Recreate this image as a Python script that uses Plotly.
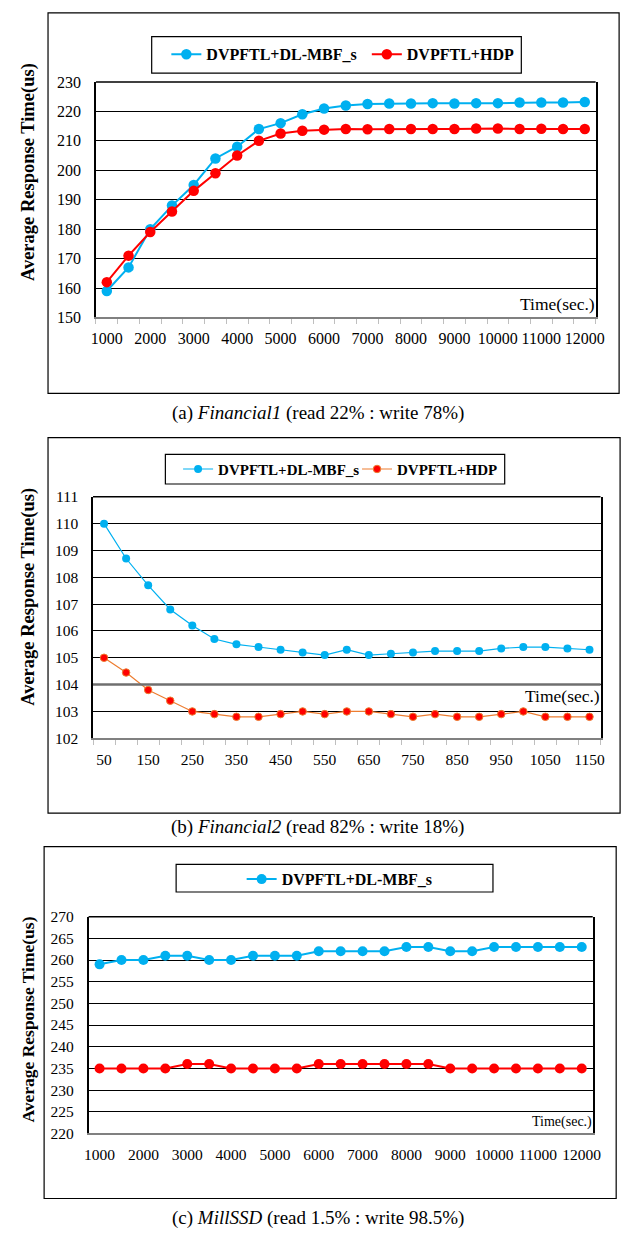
import plotly.graph_objects as go

W, H = 633, 1241
SERIF = "Liberation Serif"
BLUE = "#00B0F0"
RED = "#FF0000"
ORANGE = "#ED7D31"

# ---- (a) Financial1 ----
time_a = [1000, 1500, 2000, 2500, 3000, 3500, 4000, 4500, 5000, 5500, 6000, 6500,
          7000, 7500, 8000, 8500, 9000, 9500, 10000, 10500, 11000, 11500, 12000]
mbf_a = [159, 167, 180, 188, 195, 204, 208, 214, 216, 219, 221, 222,
         222.5, 222.7, 222.7, 222.8, 222.7, 222.8, 222.8, 223, 223, 223, 223.2]
hdp_a = [162, 171, 179, 186, 193, 199, 205, 210, 212.5, 213.4, 213.8, 214,
         213.9, 214, 214, 214, 214, 214.2, 214.2, 214, 214.1, 214, 214]

# ---- (b) Financial2 ----
time_b = [50, 100, 150, 200, 250, 300, 350, 400, 450, 500, 550, 600,
          650, 700, 750, 800, 850, 900, 950, 1000, 1050, 1100, 1150]
mbf_b = [110.0, 108.7, 107.7, 106.8, 106.2, 105.7, 105.5, 105.4, 105.3, 105.2, 105.1, 105.3,
         105.1, 105.15, 105.2, 105.25, 105.25, 105.25, 105.35, 105.4, 105.4, 105.35, 105.3]
hdp_b = [105.0, 104.45, 103.8, 103.4, 103.0, 102.9, 102.8, 102.8, 102.9, 103.0, 102.9, 103.0,
         103.0, 102.9, 102.8, 102.9, 102.8, 102.8, 102.9, 103.0, 102.8, 102.8, 102.8]

# ---- (c) MillSSD ----
time_c = [1000, 1500, 2000, 2500, 3000, 3500, 4000, 4500, 5000, 5500, 6000, 6500,
          7000, 7500, 8000, 8500, 9000, 9500, 10000, 10500, 11000, 11500, 12000]
mbf_c = [259, 260, 260, 261, 261, 260, 260, 261, 261, 261, 262, 262,
         262, 262, 263, 263, 262, 262, 263, 263, 263, 263, 263]
hdp_c = [235, 235, 235, 235, 236, 236, 235, 235, 235, 235, 236, 236,
         236, 236, 236, 236, 235, 235, 235, 235, 235, 235, 235]

captions = [
    "(a) <i>Financial1</i> (read 22% : write 78%)",
    "(b) <i>Financial2</i> (read 82% : write 18%)",
    "(c) <i>MillSSD</i> (read 1.5% : write 98.5%)",
]
name_mbf = "DVPFTL+DL-MBF_s"
name_hdp = "DVPFTL+HDP"
y_title = "Average Response Time(us)"


def px(x):
    return x / W


def py(y):
    return 1 - y / H


fig = go.Figure()

# traces
fig.add_trace(go.Scatter(x=time_a, y=mbf_a, name=name_mbf, mode="lines+markers",
                         line=dict(color=BLUE, width=2), marker=dict(color=BLUE, size=10.5),
                         xaxis="x", yaxis="y", legend="legend"))
fig.add_trace(go.Scatter(x=time_a, y=hdp_a, name=name_hdp, mode="lines+markers",
                         line=dict(color=RED, width=2), marker=dict(color=RED, size=10.5),
                         xaxis="x", yaxis="y", legend="legend2"))
fig.add_trace(go.Scatter(x=time_b, y=mbf_b, name=name_mbf, mode="lines+markers",
                         line=dict(color=BLUE, width=1.2), marker=dict(color=BLUE, size=8),
                         xaxis="x2", yaxis="y2", legend="legend3"))
fig.add_trace(go.Scatter(x=time_b, y=hdp_b, name=name_hdp, mode="lines+markers",
                         line=dict(color=ORANGE, width=1.2),
                         marker=dict(color=RED, size=7.5, line=dict(color=ORANGE, width=1)),
                         xaxis="x2", yaxis="y2", legend="legend4"))
fig.add_trace(go.Scatter(x=time_c, y=mbf_c, name=name_mbf, mode="lines+markers",
                         line=dict(color=BLUE, width=2), marker=dict(color=BLUE, size=10),
                         xaxis="x3", yaxis="y3", legend="legend5"))
fig.add_trace(go.Scatter(x=time_c, y=hdp_c, name=name_hdp, mode="lines+markers",
                         line=dict(color=RED, width=2), marker=dict(color=RED, size=10),
                         xaxis="x3", yaxis="y3", showlegend=False))

# panel geometry (pixels)
panels = [
    dict(plot=(93, 604, 74, 313), box=(44, 628, 4, 390), cap_y=410, ytitle=(24, 165),
         xr=[750, 12250], x0=1000, dx=1000, m0=750, mdx=500, xticks=True,
         yr=[150, 230], dy=10, tick=16, title=18.5, time_size=17.5, time_y=312),
    dict(plot=(90, 609, 495, 740), box=(44, 629, 435, 816), cap_y=830, ytitle=(24, 596),
         xr=[25, 1175], x0=50, dx=100, m0=25, mdx=50, xticks=True,
         yr=[102, 111], dy=1, tick=15.5, title=18.5, time_size=17.5, time_y=709),
    dict(plot=(85.5, 601, 921, 1141), box=(40, 625, 850, 1207), cap_y=1227, ytitle=(24, 1025),
         xr=[750, 12250], x0=1000, dx=1000, m0=750, mdx=500, xticks=False,
         yr=[220, 270], dy=5, tick=15.5, title=17.5, time_size=14, time_y=1140),
]

shapes = []
annotations = []
for i, p in enumerate(panels):
    sfx = "" if i == 0 else str(i + 1)
    l, r, t, b = p["plot"]
    fig.layout["xaxis" + sfx] = dict(
        domain=[px(l), px(r)], anchor="y" + sfx, range=p["xr"],
        tickmode="linear", tick0=p["x0"], dtick=p["dx"], tickformat="d", ticks="",
        showgrid=False, zeroline=False, showline=True, linecolor="#808080", linewidth=1.5,
        mirror=False, tickfont=dict(family=SERIF, size=p["tick"], color="black"),
        ticklabelstandoff=6,
        minor=dict(tickmode="linear", tick0=p["m0"], dtick=p["mdx"],
                   ticks="outside" if p["xticks"] else "",
                   ticklen=5, tickcolor="#BFBFBF", tickwidth=1, showgrid=False),
        fixedrange=True,
    )
    fig.layout["yaxis" + sfx] = dict(
        domain=[py(b), py(t)], anchor="x" + sfx, range=p["yr"],
        tickmode="linear", tick0=p["yr"][0], dtick=p["dy"], tickformat="d", ticks="",
        showgrid=True, gridcolor="black", gridwidth=1, zeroline=False,
        showline=True, linecolor="black", linewidth=1.5, mirror=True,
        tickfont=dict(family=SERIF, size=p["tick"], color="black"),
        ticklabelstandoff=10, fixedrange=True,
    )
    # top edge of the plotting frame
    shapes.append(dict(type="line", xref="x%s domain" % sfx, yref="y%s domain" % sfx,
                       x0=0, x1=1, y0=1, y1=1, line=dict(color="black", width=1.5)))
    bl, br, bt, bb = p["box"]
    shapes.append(dict(type="rect", xref="paper", yref="paper",
                       x0=px(bl), x1=px(br), y0=py(bb), y1=py(bt),
                       line=dict(color="black", width=1.2)))
    annotations.append(dict(text=captions[i], xref="paper", yref="paper",
                            x=px(320), y=py(p["cap_y"]), xanchor="center", yanchor="middle",
                            showarrow=False, font=dict(family=SERIF, size=19, color="black")))
    tx, ty = p["ytitle"]
    annotations.append(dict(text="<b>" + y_title + "</b>", xref="paper", yref="paper",
                            x=px(tx), y=py(ty), xanchor="center", yanchor="middle",
                            textangle=-90, showarrow=False,
                            font=dict(family=SERIF, size=p["title"], color="black")))
    annotations.append(dict(text="Time(sec.)", xref="paper", yref="paper",
                            x=px(r + 1), y=py(p["time_y"]), xanchor="right", yanchor="bottom",
                            showarrow=False,
                            font=dict(family=SERIF, size=p["time_size"], color="black")))

# darker reference gridline in panel (b)
shapes.append(dict(type="line", xref="x2 domain", yref="y2", x0=0, x1=1, y0=104, y1=104,
                   line=dict(color="#6F6F6F", width=2.5)))

# legend frames
for (l, r, t, b) in [(150, 528, 28, 65), (164, 511, 452, 482), (175, 499, 868, 896)]:
    shapes.append(dict(type="rect", xref="paper", yref="paper",
                       x0=px(l), x1=px(r), y0=py(b), y1=py(t),
                       line=dict(color="black", width=1.2)))


def legend_at(x_left, y_mid, size):
    return dict(x=px(x_left), y=py(y_mid), xref="paper", yref="paper",
                xanchor="left", yanchor="middle", orientation="h",
                bgcolor="rgba(0,0,0,0)", borderwidth=0,
                font=dict(family=SERIF, size=size, color="black"),
                itemclick=False, itemdoubleclick=False)


fig.update_layout(
    width=W, height=H, autosize=False,
    margin=dict(l=0, r=0, t=0, b=0),
    paper_bgcolor="white", plot_bgcolor="white",
    font=dict(family=SERIF, color="black"),
    shapes=shapes, annotations=annotations,
    legend=legend_at(165, 46, 16),
    legend2=legend_at(370, 46, 16),
    legend3=legend_at(177, 467, 15),
    legend4=legend_at(360, 467, 15),
    legend5=legend_at(242, 883, 16),
)

for tr in fig.data:
    tr.name = "<b>" + tr.name + "</b>"

fig.write_html("out.html")
